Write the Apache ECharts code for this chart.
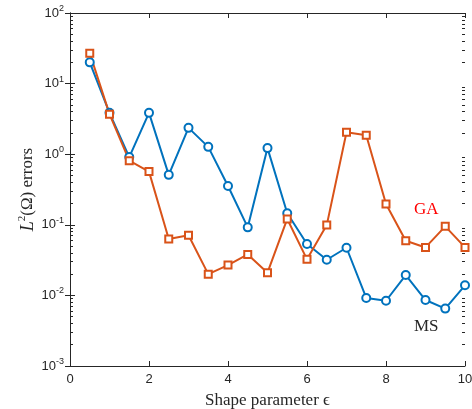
<!DOCTYPE html>
<html>
<head>
<meta charset="utf-8">
<script src="https://cdn.jsdelivr.net/npm/echarts@6/dist/echarts.min.js"></script>
<style>
  html, body { margin: 0; padding: 0; background: #fff; }
  #chartDiv { width: 472px; height: 409px; }
</style>
</head>
<body>
<div id="chartDiv"></div>
<script>
// shape parameter values
var eps = [0.5, 1, 1.5, 2, 2.5, 3, 3.5, 4, 4.5, 5, 5.5, 6, 6.5, 7, 7.5, 8, 8.5, 9, 9.5, 10];
// L2 errors
var msErr = [20, 3.85, 0.91, 3.85, 0.51, 2.36, 1.27, 0.355, 0.092, 1.22, 0.146, 0.0534, 0.032, 0.0473, 0.0092, 0.0084, 0.0194, 0.0086, 0.0065, 0.0139];
var gaErr = [27, 3.69, 0.81, 0.567, 0.063, 0.071, 0.020, 0.0269, 0.038, 0.021, 0.121, 0.0324, 0.099, 2.05, 1.86, 0.197, 0.0595, 0.0478, 0.095, 0.0478];
var xTicks = [0, 2, 4, 6, 8, 10];
var yMin = 0.001, yMax = 100;

// minor ticks for log axis: 2..9 x 10^n
var minorVals = [];
for (var p = -3; p < 2; p++) {
    for (var k = 2; k <= 9; k++) minorVals.push(k * Math.pow(10, p));
}

function pairs(xs, ys) {
    return xs.map(function (x, i) { return [x, ys[i]]; });
}

var axisCol = '#262626';
var chart = echarts.init(document.getElementById('chartDiv'));

function logAxis(pos, showLabel, minor) {
    return {
        type: 'log', logBase: 10, min: yMin, max: yMax, position: pos,
        axisLine: { show: !minor, lineStyle: { color: axisCol, width: 1 } },
        axisTick: minor
            ? { inside: true, length: 3, customValues: minorVals, lineStyle: { color: axisCol } }
            : { inside: true, length: 5, lineStyle: { color: axisCol } },
        axisLabel: showLabel ? {
            margin: 6,
            formatter: function (v) {
                var e = Math.round(Math.log10(v));
                return '{b|10}{e|' + e + '}';
            },
            rich: {
                b: { fontFamily: 'Liberation Sans', fontSize: 13, color: axisCol },
                e: { fontFamily: 'Liberation Sans', fontSize: 9, color: axisCol, padding: [0, 0, 9, 0] }
            }
        } : { show: false },
        splitLine: { show: false }
    };
}

var option = {
    animation: false,
    grid: { left: 70, right: 7, top: 13, bottom: 43, outerBoundsMode: 'none' },
    xAxis: [{
        type: 'value', min: 0, max: 10, interval: 2, position: 'bottom',
        name: 'Shape parameter \u03f5', nameLocation: 'middle', nameGap: 26,
        nameTextStyle: { fontFamily: 'Liberation Serif', fontSize: 17, color: axisCol },
        axisLine: { lineStyle: { color: axisCol } },
        axisTick: { inside: true, length: 5, lineStyle: { color: axisCol } },
        axisLabel: {
            margin: 7, fontFamily: 'Liberation Sans', fontSize: 13, color: axisCol,
            formatter: function (v) { return xTicks.indexOf(v) >= 0 ? String(v) : ''; }
        },
        splitLine: { show: false }
    }, {
        type: 'value', min: 0, max: 10, interval: 2, position: 'top',
        axisLine: { lineStyle: { color: axisCol } },
        axisTick: { inside: true, length: 5, lineStyle: { color: axisCol } },
        axisLabel: { show: false },
        splitLine: { show: false }
    }],
    yAxis: [
        Object.assign(logAxis('left', true, false), {
            name: '{i|L}{s|2}{n|(\u03a9) errors}',
            nameLocation: 'middle', nameGap: 31, nameRotate: 90, nameMoveOverlap: false,
            nameTextStyle: {
                rich: {
                    i: { fontFamily: 'Liberation Serif', fontStyle: 'italic', fontSize: 18, color: axisCol },
                    s: { fontFamily: 'Liberation Serif', fontSize: 11, color: axisCol, padding: [0, 0, 11, 0] },
                    n: { fontFamily: 'Liberation Serif', fontSize: 17, color: axisCol }
                }
            }
        }),
        logAxis('right', false, false),
        logAxis('left', false, true),
        logAxis('right', false, true)
    ],
    graphic: [
        { type: 'text', left: 414, top: 201, style: { text: 'GA', fontFamily: 'Liberation Serif', fontSize: 17, fill: '#ff0000' } },
        { type: 'text', left: 414, top: 318, style: { text: 'MS', fontFamily: 'Liberation Serif', fontSize: 17, fill: axisCol } }
    ],
    series: [{
        name: 'MS', type: 'line', data: pairs(eps, msErr),
        symbol: 'emptyCircle', symbolSize: 8,
        lineStyle: { color: '#0072BD', width: 2 },
        itemStyle: { color: '#0072BD', borderWidth: 2 }
    }, {
        name: 'GA', type: 'line', data: pairs(eps, gaErr),
        symbol: 'rect', symbolSize: 7,
        lineStyle: { color: '#D95319', width: 2 },
        itemStyle: { color: '#fff', borderColor: '#D95319', borderWidth: 2 }
    }]
};

chart.setOption(option);
</script>
</body>
</html>
